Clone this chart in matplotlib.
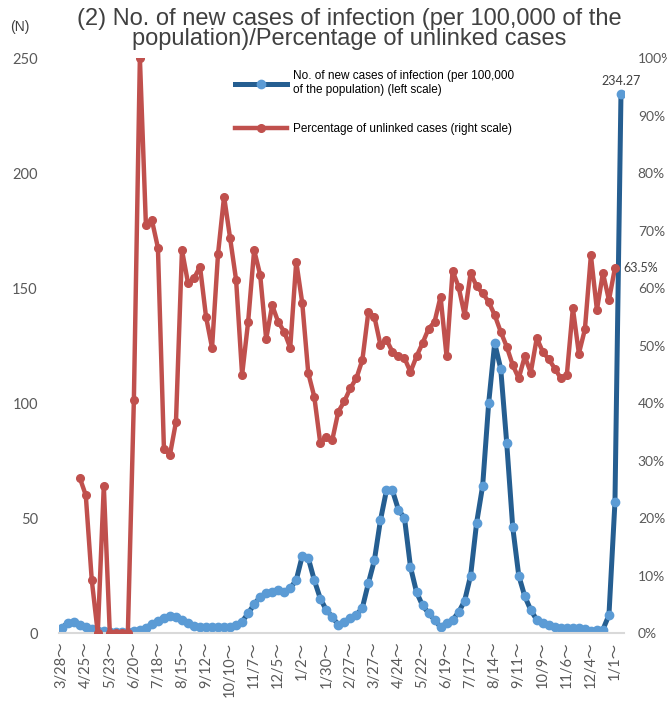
import numpy as np
import matplotlib
matplotlib.use("Agg")
import matplotlib.pyplot as plt
from matplotlib.ticker import FuncFormatter

# week start labels (every 4th week shown)
week_labels = ['3/28', '4/25', '5/23', '6/20', '7/18', '8/15', '9/12', '10/10',
               '11/7', '12/5', '1/2', '1/30', '2/27', '3/27', '4/24', '5/22',
               '6/19', '7/17', '8/14', '9/11', '10/9', '11/6', '12/4', '1/1']

# new cases per 100,000 (left scale)
new_cases = [2.2, 4.4, 4.7, 3.3, 2.5, 1.8, 1.0, 0.7, 0.6, 0.6,
             0.6, 0.6, 0.7, 1.2, 2.2, 4.0, 5.3, 6.7, 7.5, 6.9,
             5.8, 4.2, 3.0, 2.5, 2.4, 2.4, 2.4, 2.4, 2.5, 3.3,
             5.0, 8.5, 12.5, 15.7, 17.3, 18.0, 18.5, 17.7, 19.5, 23.0,
             33.5, 32.6, 23.0, 15.0, 10.0, 7.0, 3.5, 5.0, 6.5, 7.8,
             11.0, 21.7, 31.7, 49.0, 62.0, 62.0, 53.5, 50.0, 28.7, 17.8,
             12.0, 8.7, 5.7, 2.6, 4.3, 5.7, 9.0, 14.0, 25.0, 48.0,
             64.0, 100.0, 126.0, 115.0, 82.6, 46.0, 25.0, 16.0, 10.0, 5.7,
             4.3, 3.5, 2.6, 2.3, 2.0, 2.0, 2.0, 1.8, 0.8, 1.5,
             1.5, 7.8, 57.0, 234.27]

# percentage of unlinked cases (right scale)
nan = np.nan
unlinked = [nan, nan, nan, 27, 24, 9.2, 0, 25.6, 0, 0,
            0, 0, 40.5, 100, 71, 71.8, 67, 32, 31, 36.7,
            66.6, 60.9, 61.7, 63.7, 55, 49.6, 66, 75.9, 68.7, 61.4,
            44.9, 54.1, 66.6, 62.3, 51.1, 57, 54.1, 52.4, 49.6, 64.6,
            57.4, 45.2, 41.1, 33, 34.1, 33.6, 38.5, 40.3, 42.6, 44.3,
            47.5, 55.9, 55, 50.1, 51, 48.9, 48.2, 47.8, 45.4, 48.1,
            50.4, 52.9, 54.1, 58.5, 48.1, 63, 60.2, 55.3, 62.6, 60.3,
            59.1, 57.6, 55.3, 52.4, 49.8, 46.6, 44.3, 48.1, 45.3, 51.3,
            48.9, 47.6, 46, 44.3, 44.9, 56.5, 48.6, 52.8, 65.7, 56.2,
            62.6, 57.9, 63.5, nan]

x = np.arange(len(new_cases))
tick_font = ['Lato', 'Noto Sans CJK JP', 'DejaVu Sans']
grey = '#595959'

fig = plt.figure(figsize=(6.67, 7.05), dpi=100)
ax = fig.add_axes([0.088, 0.1021, 0.8475, 0.8156])
ax2 = ax.twinx()

ax.plot(x, new_cases, color='#255E91', lw=3.6, marker='o', ms=6,
        mfc='#5B9BD5', mec='#5B9BD5', solid_joinstyle='round',
        label='No. of new cases of infection (per 100,000\nof the population) (left scale)')
ax2.plot(x, unlinked, color='#C0504D', lw=3.2, marker='o', ms=5.5,
         mfc='#C0504D', mec='#C0504D', solid_joinstyle='round',
         label='Percentage of unlinked cases (right scale)')

ax.set_xlim(-0.5, len(x) - 0.5)
ax.set_ylim(0, 250)
ax2.set_ylim(0, 100)
ax.set_yticks(np.arange(0, 251, 50))
ax2.set_yticks(np.arange(0, 101, 10))
ax2.yaxis.set_major_formatter(FuncFormatter(lambda v, p: '%d%%' % v))

ax.set_xticks(x[::4])
ax.set_xticklabels([s + '\uff5e' for s in week_labels], rotation=90,
                   family=tick_font, fontsize=10.5, color=grey)
for lab in ax.get_yticklabels():
    lab.set_family(tick_font)
for lab in ax2.get_yticklabels():
    lab.set_family(tick_font)
ax.tick_params(axis='y', length=0, pad=15, labelsize=10.5, labelcolor=grey)
ax.tick_params(axis='x', length=0, pad=6)
ax2.tick_params(axis='y', length=0, pad=10, labelsize=10, labelcolor=grey)

for sp in ['left', 'right', 'top']:
    ax.spines[sp].set_visible(False)
    ax2.spines[sp].set_visible(False)
ax2.spines['bottom'].set_visible(False)
ax.spines['bottom'].set_color('#D9D9D9')
ax.spines['bottom'].set_linewidth(1.5)

# data labels
ax.annotate('%.2f' % new_cases[-1], (x[-1], new_cases[-1]), xytext=(0, 5),
            textcoords='offset points', ha='center', va='bottom',
            family=tick_font, fontsize=9, color='#404040')
ax2.annotate('%.1f%%' % unlinked[-2], (x[-2], unlinked[-2]), xytext=(6, 0),
             textcoords='offset points', ha='left', va='center',
             family=tick_font, fontsize=9, color='#404040')

h1, l1 = ax.get_legend_handles_labels()
h2, l2 = ax2.get_legend_handles_labels()
fig.legend(h1 + h2, l1 + l2, loc='upper left', bbox_to_anchor=(0.352, 0.900),
           frameon=False, prop={'family': 'Liberation Sans', 'size': 8.5},
           handlelength=4.4, handletextpad=0.5, labelspacing=2.3,
           borderpad=0, borderaxespad=0, numpoints=1)

fig.text(0.524, 0.989, '(2) No. of new cases of infection (per 100,000 of the\npopulation)/Percentage of unlinked cases',
         ha='center', va='top', fontsize=17, color='#404040',
         family='Liberation Sans', linespacing=0.92)
fig.text(0.015, 0.962, '(N)', ha='left', va='center', fontsize=10,
         color='#404040', family='Liberation Sans')

fig.savefig('out.png', dpi=100)
